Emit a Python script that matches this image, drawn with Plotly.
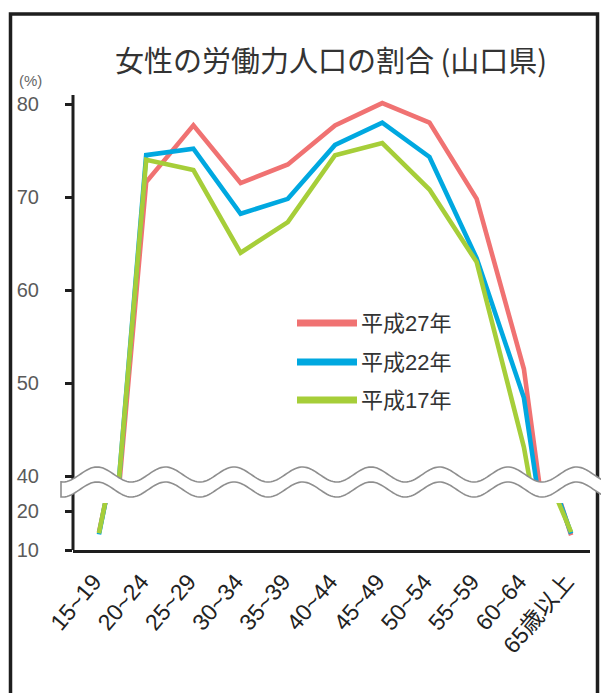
import numpy as np
import plotly.graph_objects as go

# Age groups on the category axis
ages = ["15~19", "20~24", "25~29", "30~34", "35~39", "40~44",
        "45~49", "50~54", "55~59", "60~64", "65歳以上"]

# Female labour-force participation rate (%) by survey year
series_names = ["平成27年", "平成22年", "平成17年"]
h27 = [14.5, 71.6, 77.7, 71.5, 73.5, 77.7, 80.1, 78.0, 69.8, 51.5, 13.8]
h22 = [14.0, 74.5, 75.2, 68.2, 69.8, 75.6, 78.0, 74.3, 63.4, 48.4, 14.2]
h17 = [14.3, 74.0, 72.9, 64.0, 67.3, 74.5, 75.8, 70.8, 63.0, 43.1, 14.6]
series_values = [h27, h22, h17]
series_colors = ["#F07272", "#00A8E0", "#A6CE39"]

# Broken value axis: lower part 10-20, upper part 40-80
lower_ticks = [10, 20]
upper_ticks = [40, 50, 60, 70, 80]

TITLE = "女性の労働力人口の割合 (山口県)"
UNIT = "(%)"

W, H = 601, 693
PL, PR, PT, PB = 73, 590, 94, 550  # plot area in pixels


def fx(px):
    return (px - PL) / (PR - PL)


def fy(py):
    return (PB - py) / (PB - PT)


fig = go.Figure()

for axes in (("x", "y"), ("x2", "y2")):
    for name, vals, color in zip(series_names, series_values, series_colors):
        fig.add_trace(go.Scatter(
            x=ages, y=vals, name=name, mode="lines",
            line=dict(color=color, width=4.6),
            xaxis=axes[0], yaxis=axes[1], showlegend=False,
        ))

num_font = dict(family="Liberation Sans, Arial, sans-serif", size=20, color="#5a5a5a")

shapes = []
# outer frame
shapes.append(dict(type="rect", xref="paper", yref="paper",
                   x0=fx(10.5), x1=fx(597.5), y0=fy(760), y1=fy(14),
                   line=dict(color="#1e1e1e", width=3.5), fillcolor="rgba(0,0,0,0)",
                   layer="above"))
# value axis line through the whole plot height
shapes.append(dict(type="line", xref="paper", yref="paper",
                   x0=0, x1=0, y0=0, y1=fy(95),
                   line=dict(color="#1e1e1e", width=3), layer="above"))

# wavy break band across the axis
xs = np.arange(61, 612, 2.0)
top = 474.5 - 7.5 * np.cos(2 * np.pi * (xs - 97) / 68.5)
bot = top + 15
pts = [(fx(a), fy(b)) for a, b in zip(xs, top)] + \
      [(fx(a), fy(b)) for a, b in zip(xs[::-1], bot[::-1])]
path = "M " + " L ".join(f"{a:.5f},{b:.5f}" for a, b in pts) + " Z"
shapes.append(dict(type="path", xref="paper", yref="paper", path=path,
                   fillcolor="white", line=dict(color="#8e8e8e", width=1.6),
                   layer="above"))

annotations = [
    dict(text=UNIT, xref="paper", yref="paper", x=fx(30), y=fy(80),
         showarrow=False, xanchor="center", yanchor="middle",
         font=dict(family="Liberation Sans, Arial, sans-serif", size=15, color="#666666")),
]

# legend drawn as short swatches with labels
leg_rows = [323, 362, 400]
for name, color, ry in zip(series_names, series_colors, leg_rows):
    shapes.append(dict(type="line", xref="paper", yref="paper",
                       x0=fx(297), x1=fx(357), y0=fy(ry), y1=fy(ry),
                       line=dict(color=color, width=7), layer="above"))
    annotations.append(dict(text=name, xref="paper", yref="paper",
                            x=fx(359), y=fy(ry), showarrow=False,
                            xanchor="left", yanchor="middle",
                            font=dict(family="Liberation Sans, Noto Sans CJK JP, sans-serif",
                                      size=22, color="#333333")))

fig.update_layout(
    width=W, height=H, autosize=False,
    margin=dict(l=PL, r=W - PR, t=PT, b=H - PB, pad=0),
    paper_bgcolor="white", plot_bgcolor="white",
    title=dict(text=TITLE, x=fx(331), xref="paper", xanchor="center",
               y=1 - 62 / H, yref="container", yanchor="middle",
               font=dict(family="Noto Sans CJK JP, sans-serif", size=29, color="#333333")),
    xaxis=dict(domain=[0, 1], anchor="y", type="category", range=[-0.55, 10.4],
               showline=True, linecolor="#1e1e1e", linewidth=3, ticks="",
               showgrid=False, zeroline=False, tickangle=-50,
               ticklabelstandoff=6, ticklabelshift=-5,
               tickfont=dict(family="Liberation Sans, Noto Sans CJK JP, sans-serif",
                             size=23, color="#222222")),
    xaxis2=dict(domain=[0, 1], anchor="y2", matches="x", showticklabels=False,
                showline=False, showgrid=False, zeroline=False, ticks=""),
    yaxis=dict(domain=[0, fy(503)], range=[10, 10 + 47 / 3.9], tickvals=lower_ticks,
               ticks="outside", ticklen=7, tickwidth=3, tickcolor="#1e1e1e",
               showline=False, showgrid=False, zeroline=False,
               ticklabelstandoff=22, tickfont=num_font),
    yaxis2=dict(domain=[fy(483), 1], range=[80 - 379 / 9.3, 80 + 10 / 9.3],
                tickvals=upper_ticks,
                ticks="outside", ticklen=7, tickwidth=3, tickcolor="#1e1e1e",
                showline=False, showgrid=False, zeroline=False,
                ticklabelstandoff=22, tickfont=num_font),
    shapes=shapes,
    annotations=annotations,
)

fig.write_html("out.html")
